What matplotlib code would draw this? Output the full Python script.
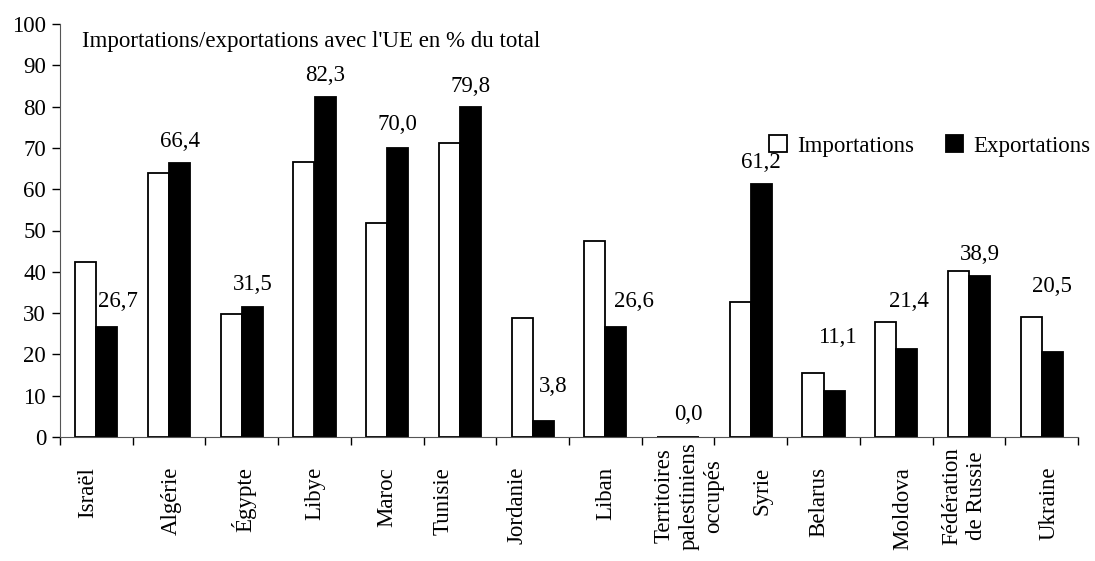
import numpy as np
import matplotlib.pyplot as plt

pays = ["Israël", "Algérie", "Égypte", "Libye", "Maroc", "Tunisie", "Jordanie",
        "Liban", "Territoires\npalestiniens\noccupés", "Syrie", "Belarus",
        "Moldova", "Fédération\nde Russie", "Ukraine"]
importations = [42.3, 64.0, 29.8, 66.7, 51.7, 71.2, 28.7, 47.5, 0.0, 32.8, 15.4, 27.8, 40.3, 29.1]
exportations = [26.7, 66.4, 31.5, 82.3, 70.0, 79.8, 3.8, 26.6, 0.0, 61.2, 11.1, 21.4, 38.9, 20.5]

# offsets (px) of the value labels from the top of the export bar
label_dx = [11, 0, 0, 0, 0, 0, 10, 18, 0, 0, 3, 2, 0, 0]
label_dy = [25, 21, 22, 22, 23, 21, 35, 26, 22, 22, 54, 47, 22, 66]
# offsets (px) of the country names below the axis
name_dx = [-9, 2, 2, 0, 0, -17, -16, 0, 11, 11, -5, 7, -5, 7]
name_dy = [30, 30, 30, 30, 30, 30, 30, 30, 5, 30, 30, 30, 10, 30]


def main():
    plt.rcParams['font.family'] = ['Liberation Serif', 'DejaVu Serif']
    fs = 16.5

    fig = plt.figure(figsize=(10.95, 5.61), dpi=100)
    ax = fig.add_axes([60 / 1095, 1 - 437 / 561, 1018 / 1095, 413 / 561])

    x = np.arange(len(pays))
    w = 0.29
    ax.bar(x - w / 2, importations, w, color="white", edgecolor="black",
           linewidth=1.3, label="Importations")
    ax.bar(x + w / 2, exportations, w, color="black", edgecolor="black",
           linewidth=1.3, label="Exportations")

    for i, v in enumerate(exportations):
        ax.annotate(f"{v:.1f}".replace(".", ","), (x[i] + w / 2, v),
                    xytext=(label_dx[i] * 0.72, label_dy[i] * 0.72),
                    textcoords="offset points", ha="center", va="center",
                    fontsize=fs)

    ax.set_xlim(-0.5, len(pays) - 0.5)
    ax.set_ylim(0, 100)
    ax.set_yticks(np.arange(0, 101, 10))
    ax.tick_params(axis="y", labelsize=fs, length=6, width=1, pad=4)

    ax.set_xticks(np.arange(len(pays) + 1) - 0.5)
    ax.set_xticklabels([])
    ax.tick_params(axis="x", which="major", length=6, width=1)

    for i, nom in enumerate(pays):
        ax.annotate(nom, (x[i], 0), xycoords=("data", "axes fraction"),
                    xytext=(name_dx[i] * 0.72, -name_dy[i] * 0.72),
                    textcoords="offset points", rotation=90, ha="center",
                    va="top", multialignment="center", linespacing=1.25,
                    fontsize=fs, annotation_clip=False)

    for s in ["top", "right"]:
        ax.spines[s].set_visible(False)
    ax.spines["left"].set_color("#555555")
    ax.spines["bottom"].set_color("#555555")

    ax.text(22 / 1018, (437 - 42) / 413, "Importations/exportations avec l'UE en % du total",
            transform=ax.transAxes, fontsize=fs, va="center", ha="left")

    ax.legend(loc="center right", bbox_to_anchor=(1093 / 1095, 1 - 146 / 561),
              bbox_transform=fig.transFigure, ncol=2, frameon=False, fontsize=fs,
              handlelength=0.75, handleheight=0.75, handletextpad=0.45,
              columnspacing=1.4, borderaxespad=0, borderpad=0.1)

    plt.savefig("out.png", dpi=100)


if __name__ == "__main__":
    main()
